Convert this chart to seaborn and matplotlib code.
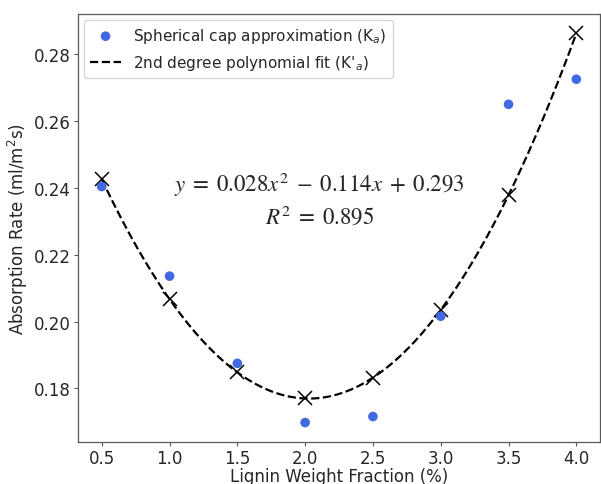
import numpy as np
import pandas as pd
import matplotlib
matplotlib.use("Agg")
import matplotlib.pyplot as plt
import seaborn as sns

# Lignin weight fraction (%) and measured absorption rate (ml/m^2 s)
lignin = [0.5, 1.0, 1.5, 2.0, 2.5, 3.0, 3.5, 4.0]
absorption = [0.2404, 0.2136, 0.1875, 0.1698, 0.1716, 0.2016, 0.2650, 0.2725]

# Second-degree polynomial fit: a*x^2 + b*x + c, and its R^2
fit_coef = [0.0281, -0.1140, 0.2926]
fit_r2 = 0.895

sns.set_style("ticks")
plt.rcParams["font.family"] = ["DejaVu Sans"]
plt.rcParams["mathtext.fontset"] = "dejavusans"

df = pd.DataFrame({"x": lignin, "y": absorption})
xs = np.linspace(min(lignin), max(lignin), 200)
fit_df = pd.DataFrame({"x": xs, "y": np.polyval(fit_coef, xs)})
cross_df = pd.DataFrame({"x": lignin, "y": np.polyval(fit_coef, lignin)})

fig = plt.figure(figsize=(6.01, 4.85), dpi=100)
ax = fig.add_axes([0.1298, 0.0866, 0.8686, 0.8825])

sns.scatterplot(data=df, x="x", y="y", ax=ax, color="#4169E1", s=48,
                edgecolor="none", label=r"Spherical cap approximation (K$_a$)", zorder=3)
sns.lineplot(data=fit_df, x="x", y="y", ax=ax, color="black", linestyle="--",
             linewidth=1.6, label=r"2nd degree polynomial fit (K$'_a$)")
ax.plot(cross_df["x"], cross_df["y"], linestyle="none", marker="x",
        color="black", markersize=9.5, markeredgewidth=1.1)

a, b, c = fit_coef
sign_b = "-" if b < 0 else "+"
ax.text(0.462, 0.568,
        rf"$y\;=\;{a:.3f}x^2\;{sign_b}\;{abs(b):.3f}x\;+\;{c:.3f}$" + "\n" + rf"$R^2\;=\;{fit_r2:.3f}$",
        transform=ax.transAxes, ha="center", va="center", fontsize=16.5,
        linespacing=1.3, math_fontfamily="stix")

ax.set_xlabel("Lignin Weight Fraction (%)", fontsize=12, labelpad=0)
ax.set_ylabel(r"Absorption Rate (ml/m$^2$s)", fontsize=12, labelpad=3)
ax.tick_params(labelsize=12, length=3, width=0.8, color="0.35", pad=2)
for sp in ax.spines.values():
    sp.set_color("0.35")
    sp.set_linewidth(0.9)
ax.set_xticks([0.5, 1.0, 1.5, 2.0, 2.5, 3.0, 3.5, 4.0])
ax.legend(loc="upper left", fontsize=11, frameon=True, borderaxespad=0.4)

fig.savefig("out.png", dpi=100)
